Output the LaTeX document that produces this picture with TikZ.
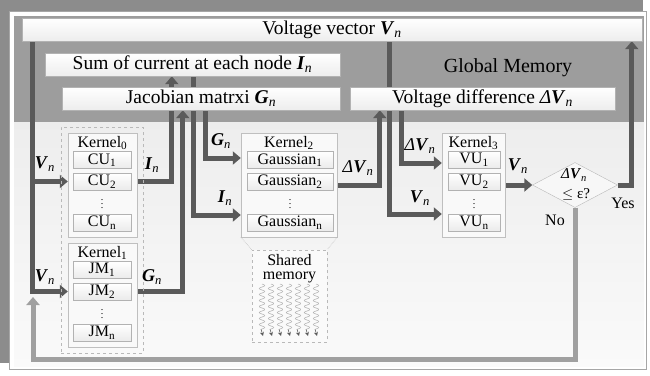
\documentclass[tikz,border=0pt]{standalone}
\usepackage{fontspec}
\setmainfont{Liberation Serif}
\usetikzlibrary{arrows.meta,shapes.geometric,calc}
\definecolor{arrdark}{HTML}{5A5A5A}
\definecolor{arrlight}{HTML}{A0A0A0}
\definecolor{gmem}{HTML}{9D9D9D}
\definecolor{backpage}{HTML}{8C8C8C}
\newcommand{\bv}[1]{\textbf{\textit{#1}}\textsubscript{\textit{n}}}
\newcommand{\dv}{\textit{Δ}\textbf{\textit{V}}\textsubscript{\textit{n}}}
\pgfdeclarelayer{backlayer}
\pgfdeclarelayer{arrowlayer}
\pgfsetlayers{backlayer,arrowlayer,main}
\begin{document}
\begin{tikzpicture}[x=1pt,y=-1pt,
  membox/.style={draw=gray!60, top color=white, bottom color=gray!14, minimum height=23pt, inner sep=0pt, font=\fontsize{19.5}{21}\selectfont},
  kbox/.style={draw=gray!50, fill=gray!5, inner sep=0pt, minimum width=69pt, minimum height=104pt},
  ubox/.style={draw=gray!60, top color=white, bottom color=gray!16, minimum height=17pt, inner sep=0pt, font=\fontsize{16}{18}\selectfont},
  klabel/.style={font=\fontsize{16}{18}\selectfont, inner sep=0pt},
  vdot/.style={font=\fontsize{10}{10}\selectfont, inner sep=0pt},
  grp/.style={draw=gray!55, dashed, line width=0.6pt},
  arr/.style={draw=arrdark, line width=5pt, -{Triangle[length=8pt,width=13pt]}},
  arrl/.style={draw=arrlight, line width=5pt, -{Triangle[length=8pt,width=13pt]}},
  lab/.style={font=\fontsize{18}{20}\selectfont, inner sep=0pt},
  small/.style={font=\fontsize{15}{17}\selectfont, inner sep=0pt},
]
\useasboundingbox (0,0) rectangle (650,375);
\begin{pgfonlayer}{backlayer}
  \fill[backpage] (0,0) rectangle (643,363);
  \filldraw[fill=white, draw=gray!70, line width=1pt] (9,11) rectangle (646,369);
  \shade[top color=gray!14, bottom color=gray!4] (14,122) rectangle (644,366);
  \fill[gmem] (14,16) rectangle (644,122);
\end{pgfonlayer}

% global memory boxes
\node[membox, minimum width=620pt] (vv) at (332,29.5) {Voltage vector \bv{V}};
\node[membox, minimum width=295pt] (sum) at (192.5,64.5) {Sum of current at each node \bv{I}};
\node[membox, minimum width=278pt] (jac) at (201,98.5) {Jacobian matrxi \bv{G}};
\node[membox, minimum width=265pt] (vd) at (482.5,98.5) {Voltage difference \dv};
\node[font=\fontsize{20}{22}\selectfont, inner sep=0pt] (gm) at (508,68) {Global Memory};

% kernel 0 / 1 group
\node[grp, minimum width=82pt, minimum height=226pt, inner sep=0pt] (g01) at (102,240) {};
\node[kbox] (k0) at (102.5,185) {};
\node[klabel] (k0l) at (102.5,143) {Kernel\textsubscript{0}};
\node[ubox, minimum width=58pt] (cu1) at (102,160) {CU\textsubscript{1}};
\node[ubox, minimum width=58pt] (cu2) at (102,181.5) {CU\textsubscript{2}};
\node[vdot] (cud) at (102,201) {$\vdots$};
\node[ubox, minimum width=58pt] (cun) at (102,222.5) {CU\textsubscript{n}};

\node[kbox] (k1) at (102.5,295) {};
\node[klabel] (k1l) at (102.5,253) {Kernel\textsubscript{1}};
\node[ubox, minimum width=58pt] (jm1) at (102,270) {JM\textsubscript{1}};
\node[ubox, minimum width=58pt] (jm2) at (102,291.5) {JM\textsubscript{2}};
\node[vdot] (jmd) at (102,311) {$\vdots$};
\node[ubox, minimum width=58pt] (jmn) at (102,332.5) {JM\textsubscript{n}};

% kernel 2
\node[kbox, minimum width=96pt] (k2) at (289,185) {};
\node[klabel] (k2l) at (289,143) {Kernel\textsubscript{2}};
\node[ubox, minimum width=86pt] (ga1) at (290,160) {Gaussian\textsubscript{1}};
\node[ubox, minimum width=86pt] (ga2) at (290,181.5) {Gaussian\textsubscript{2}};
\node[vdot] (gad) at (290,201) {$\vdots$};
\node[ubox, minimum width=86pt] (gan) at (290,222.5) {Gaussian\textsubscript{n}};

% shared memory
\node[grp, minimum width=75pt, minimum height=92pt, inner sep=0pt, fill=gray!4] (shm) at (289.5,296) {};
\draw[gray!55, densely dotted, line width=0.6pt] (k2.south west) -- (shm.north west);
\draw[gray!55, densely dotted, line width=0.6pt] (k2.south east) -- (shm.north east);
\node[font=\fontsize{16}{14}\selectfont, align=center, inner sep=0pt] (shmt) at (289.5,269) {Shared\\memory};
\foreach \i in {0,...,6}{
  \draw[gray!65, line width=0.5pt] plot[domain=0:45, samples=90, smooth] ({262+9*\i+2.8*sin(\x*60)},{284+\x});
  \draw[arrdark, line width=0.6pt, -{Stealth[length=4pt,width=4pt]}] ({262+9*\i-1},329) -- ({262+9*\i+1},336);
}

% kernel 3
\node[kbox, minimum width=63pt] (k3) at (473.5,185) {};
\node[klabel] (k3l) at (473.5,143) {Kernel\textsubscript{3}};
\node[ubox, minimum width=52pt] (vu1) at (474,160) {VU\textsubscript{1}};
\node[ubox, minimum width=52pt] (vu2) at (474,181.5) {VU\textsubscript{2}};
\node[vdot] (vud) at (474,201) {$\vdots$};
\node[ubox, minimum width=52pt] (vun) at (474,222.5) {VU\textsubscript{n}};

% decision
\node[diamond, draw=gray!55, fill=gray!6, minimum width=85pt, minimum height=45pt, inner sep=0pt] (dia) at (575,185) {};
\node[small] (diat) at (574,175) {\dv};
\node[small] (diab) at (576,195) {$\le$ ε?};
\node[klabel] (yes) at (623,203) {Yes};
\node[klabel] (no) at (555,220) {No};

% named connector coordinates
\coordinate (vl) at ([xshift=11]vv.south west);
\coordinate (ix) at ([xshift=127]sum.south west);
\coordinate (gx) at ([xshift=121]jac.south west);
\coordinate (sx) at ([xshift=149]sum.south west);
\coordinate (jx) at ([xshift=144]jac.south west);
\coordinate (dx) at ([xshift=30]vd.south west);
\coordinate (vx) at ([xshift=368]vv.south west);
\coordinate (ddx) at ([xshift=52]vd.south west);
\coordinate (yx) at ([xshift=610]vv.south west);
\coordinate (fb) at (33,297);

\begin{pgfonlayer}{arrowlayer}
  \draw[arr] (vl) |- (k1.west |- jm2);
  \draw[arr] (vl |- cu2) -- (k0.west |- cu2);
  \draw[arr] (k0.east |- cu2) -| (ix);
  \draw[arr] (k1.east |- jm2) -| (gx);
  \draw[arr] (sx) |- ([yshift=-30]k2.west);
  \draw[arr] (jx) |- ([yshift=27]k2.west);
  \draw[arr] (k2.east) -| (dx);
  \draw[arr] (vx) |- ([yshift=-29]k3.west);
  \draw[arr] (ddx) |- ([yshift=22]k3.west);
  \draw[arr] (k3.east) -- (dia.west);
  \draw[arr] (dia.east) -| (yx);
  \draw[arrl] (dia.south) -- ++(0,152) -| (fb);
\end{pgfonlayer}

% connector labels
\node[lab] (l1) at (45,164) {\bv{V}};
\node[lab] (l2) at (45,277) {\bv{V}};
\node[lab] (l3) at (152,165) {\bv{I}};
\node[lab] (l4) at (152,277) {\bv{G}};
\node[lab] (l5) at (221,141) {\bv{G}};
\node[lab] (l6) at (225,198) {\bv{I}};
\node[lab] (l7) at (358,168) {\dv};
\node[lab] (l8) at (420,146) {\dv};
\node[lab] (l9) at (420,198) {\bv{V}};
\node[lab] (l10) at (518,166) {\bv{V}};
\end{tikzpicture}
\end{document}
